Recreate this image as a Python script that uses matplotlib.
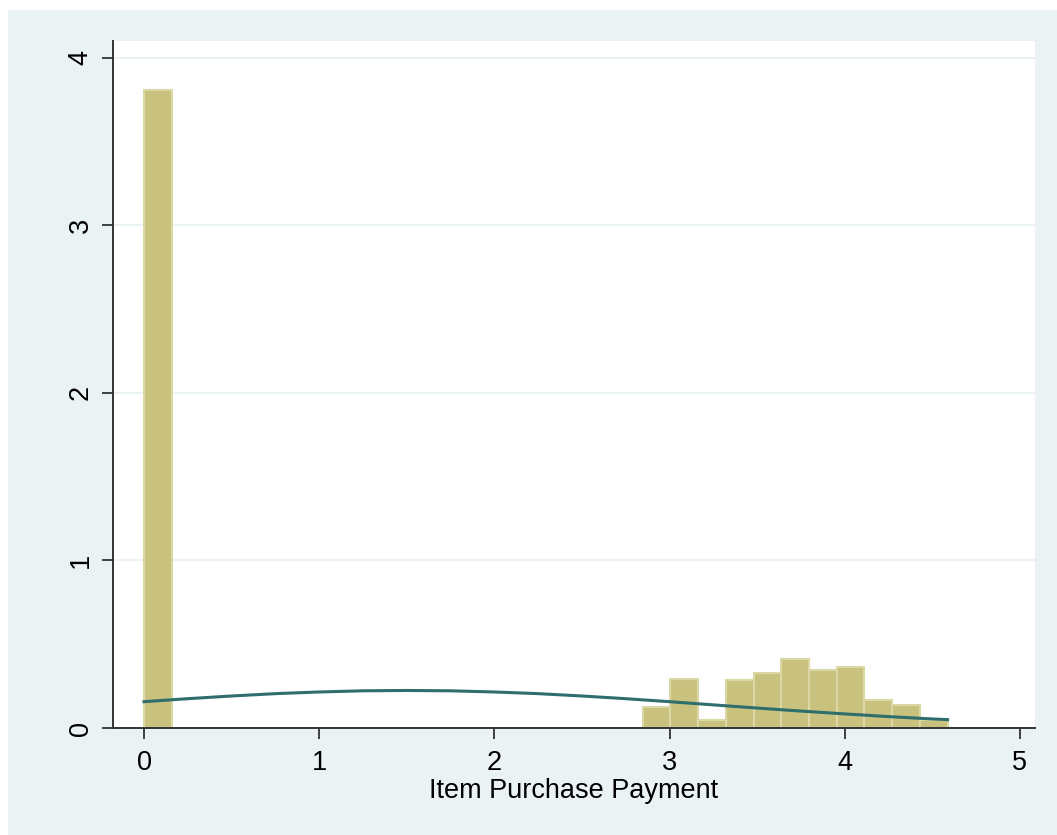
import matplotlib
matplotlib.use("Agg")
import matplotlib.pyplot as plt
from matplotlib.patches import Rectangle

plt.rcParams["font.family"] = ["Liberation Sans", "DejaVu Sans"]

# histogram bins (density scale), left edges and heights
bin_width = 0.1582
bin_left = [0.000, 2.847, 3.005, 3.163, 3.322, 3.480, 3.638, 3.796, 3.954, 4.112, 4.271, 4.429]
bin_density = [3.81, 0.127, 0.293, 0.046, 0.289, 0.327, 0.412, 0.345, 0.363, 0.167, 0.136, 0.046]

# fitted normal density overlay
curve_x = [0.0, 0.25, 0.5, 0.75, 1.0, 1.25, 1.5, 1.75, 2.0, 2.25, 2.5, 2.75,
           3.0, 3.25, 3.5, 3.75, 4.0, 4.25, 4.5, 4.587]
curve_y = [0.157, 0.175, 0.191, 0.205, 0.215, 0.222, 0.224, 0.222, 0.215, 0.205, 0.191, 0.175,
           0.157, 0.138, 0.119, 0.101, 0.084, 0.068, 0.054, 0.050]

x_ticks = [0, 1, 2, 3, 4, 5]
y_ticks = [0, 1, 2, 3, 4]

W, H = 1057, 835
fig = plt.figure(figsize=(W / 100, H / 100), dpi=100)
fig.patch.set_facecolor("white")
fig.patches.append(Rectangle((8 / W, 0), 1 - 8 / W, 1 - 10 / H, transform=fig.transFigure,
                             facecolor="#EAF2F3", edgecolor="none", zorder=-10))

ax = fig.add_axes([113 / W, (H - 728) / H, (1035 - 113) / W, (728 - 41) / H])
ax.set_facecolor("white")

ax.bar(bin_left, bin_density, width=bin_width, align="edge", color="#C9C27F",
       edgecolor="#DCD8A6", linewidth=1.5, zorder=2)
ax.plot(curve_x, curve_y, color="#2E6E6C", linewidth=2.2, zorder=3)

ax.set_xlim(-0.177, 5.086)
ax.set_ylim(0, 4.10)
ax.set_xticks(x_ticks)
ax.set_yticks(y_ticks)
ax.set_yticklabels([str(v) for v in y_ticks], rotation=90, va="center")
ax.tick_params(axis="both", labelsize=19.5, length=8, width=1.2, color="#222222")
ax.tick_params(axis="y", pad=6)
ax.tick_params(axis="x", pad=8)

ax.grid(axis="y", color="#EAF2F3", linewidth=1.5, zorder=1)
ax.grid(axis="x", visible=False)
ax.set_axisbelow(True)

for side in ("top", "right"):
    ax.spines[side].set_visible(False)
for side in ("left", "bottom"):
    ax.spines[side].set_color("#333333")
    ax.spines[side].set_linewidth(1.4)

ax.set_xlabel("Item Purchase Payment", fontsize=19.5, labelpad=1)

fig.savefig("out.png", dpi=100)
